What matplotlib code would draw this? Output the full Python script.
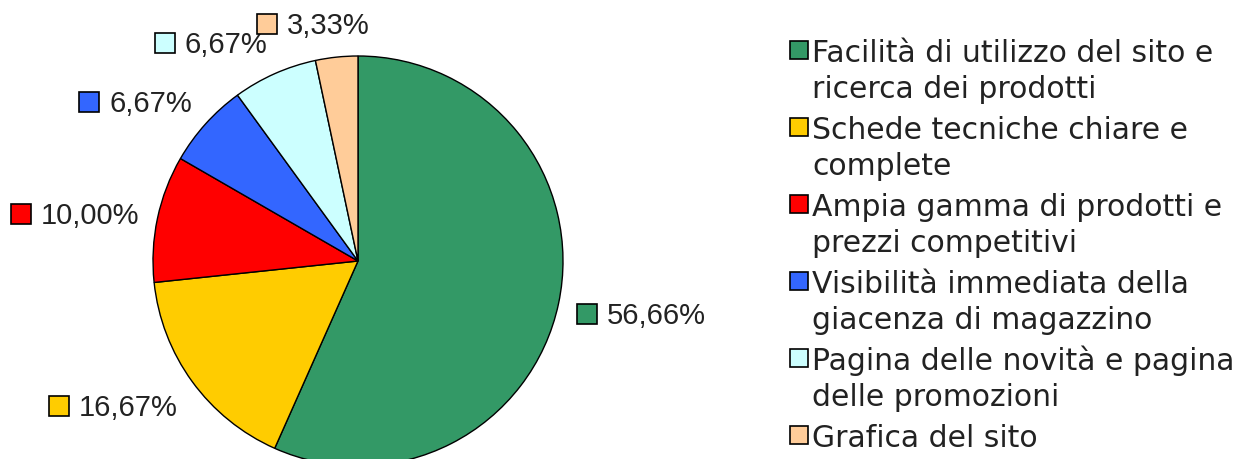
import numpy as np
import matplotlib
matplotlib.use("Agg")
import matplotlib.pyplot as plt
from matplotlib.patches import Rectangle
from matplotlib.offsetbox import AnnotationBbox, HPacker, TextArea, DrawingArea

plt.rcParams['font.family'] = ['Liberation Sans', 'DejaVu Sans']

# data
categories = ["Facilità di utilizzo del sito e\nricerca dei prodotti",
              "Schede tecniche chiare e\ncomplete",
              "Ampia gamma di prodotti e\nprezzi competitivi",
              "Visibilità immediata della\ngiacenza di magazzino",
              "Pagina delle novità e pagina\ndelle promozioni",
              "Grafica del sito"]
values = [56.66, 16.67, 10.00, 6.67, 6.67, 3.33]
pct_labels = ["56,66%", "16,67%", "10,00%", "6,67%", "6,67%", "3,33%"]
colors = ["#339966", "#FFCC00", "#FF0000", "#3366FF", "#CCFFFF", "#FFCC99"]

W, H = 1237, 459
fig = plt.figure(figsize=(W / 100, H / 100), dpi=100)

# pie axes: centre (358, 261) px, radius 205 px
cx, cy, R = 358, 261, 205
ax = fig.add_axes([(cx - R) / W, (H - cy - R) / H, 2 * R / W, 2 * R / H])
wedges, _ = ax.pie(values, colors=colors, startangle=90, counterclock=False,
                   radius=1, wedgeprops=dict(edgecolor='black', linewidth=1))
for w in wedges:
    w.set_clip_on(False)
ax.set_xlim(-1, 1)
ax.set_ylim(-1, 1)
ax.set_aspect('equal')
ax.axis('off')

# data labels with small colour key
sq = 20 * 72 / 100
for w, lab, col in zip(wedges, pct_labels, colors):
    ang = np.deg2rad((w.theta1 + w.theta2) / 2)
    x, y = 1.09 * np.cos(ang), 1.18 * np.sin(ang) - 0.025
    da = DrawingArea(sq, sq, 0, 0)
    da.add_artist(Rectangle((0, 0), sq, sq, facecolor=col, edgecolor='black', linewidth=1.2))
    ta = TextArea(lab, textprops=dict(fontsize=21, color='#222222'))
    box = HPacker(children=[da, ta], align='baseline', pad=0, sep=7)
    bx = float(np.clip(0.5 - x / 0.6, 0, 1))
    ab = AnnotationBbox(box, (x, y), xycoords='data', box_alignment=(bx, 0.5),
                        frameon=False, pad=0, annotation_clip=False)
    ax.add_artist(ab)

# legend drawn by hand
lx, base, line_h, item_h = 812, 62, 36, 77
for i, (lab, col) in enumerate(zip(categories, colors)):
    yb = base + i * item_h
    fig.patches.append(Rectangle(((lx - 22) / W, (H - yb + 3) / H), 18 / W, 18 / H,
                                 transform=fig.transFigure, facecolor=col,
                                 edgecolor='black', linewidth=1.2))
    for j, line in enumerate(lab.split("\n")):
        fig.text(lx / W, (H - yb - j * line_h) / H, line, fontsize=21.5,
                 family='DejaVu Sans', color='#222222', ha='left', va='baseline')

fig.savefig("out.png", dpi=100)
